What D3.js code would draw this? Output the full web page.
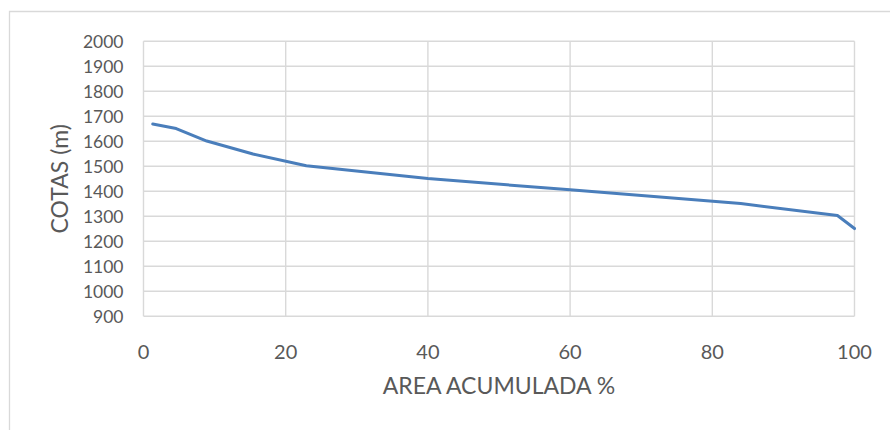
<!DOCTYPE html>
<html><head><meta charset="utf-8">
<script src="https://cdn.jsdelivr.net/npm/d3@7"></script>
<style>body{margin:0;background:#fff}svg{display:block}text{font-family:Lato,"Open Sans",sans-serif;fill:#595959}</style>
</head><body><svg id="c" width="890" height="430"></svg>
<script>
const areaAcumulada = [1.3, 4.6, 8.9, 15.4, 22.9, 40, 60, 84, 97.6, 100];
const cotas = [1669, 1651, 1601, 1549, 1502, 1451, 1406, 1351, 1303, 1251];
const xTicks = [0, 20, 40, 60, 80, 100];
const yTicks = [900,1000,1100,1200,1300,1400,1500,1600,1700,1800,1900,2000];
const xTitle = "AREA ACUMULADA %";
const yTitle = "COTAS (m)";

const svg = d3.select("#c");
const L = 143.5, R = 854.5, T = 41.3, B = 316.3;
const x = d3.scaleLinear().domain([0, 100]).range([L, R]);
const y = d3.scaleLinear().domain([900, 2000]).range([B, T]);

// outer chart border
svg.append("path").attr("d", "M9.5,430 V11.5 H890").attr("fill","none").attr("stroke","#d9d9d9").attr("stroke-width",1.3);

// gridlines
const g = svg.append("g");
g.selectAll(".hy").data(yTicks).join("line")
  .attr("x1", L).attr("x2", R).attr("y1", d => y(d)).attr("y2", d => y(d))
  .attr("stroke", "#d9d9d9").attr("stroke-width", 1.4);
g.selectAll(".vx").data(xTicks).join("line")
  .attr("y1", T).attr("y2", B).attr("x1", d => x(d)).attr("x2", d => x(d))
  .attr("stroke", "#d9d9d9").attr("stroke-width", 1.4);

// y tick labels
svg.append("g").selectAll("text").data(yTicks).join("text")
  .attr("x", 123.5).attr("y", d => y(d)).attr("dy", "0.36em")
  .attr("text-anchor", "end").attr("font-size", 17.5).text(d => d);
// x tick labels
svg.append("g").selectAll("text").data(xTicks).join("text")
  .attr("x", d => x(d)).attr("y", 352).attr("dy", "0.36em")
  .attr("text-anchor", "middle").attr("font-size", 20).text(d => d);

// titles
svg.append("text").attr("x", (L + R) / 2).attr("y", 386).attr("dy", "0.36em")
  .attr("text-anchor", "middle").attr("font-size", 23).text(xTitle);
svg.append("text").attr("transform", `translate(60,${(T + B) / 2}) rotate(-90)`).attr("dy", "0.36em")
  .attr("text-anchor", "middle").attr("font-size", 23).text(yTitle);

// line
const line = d3.line().x(d => x(d[0])).y(d => y(d[1]));
svg.append("path").datum(areaAcumulada.map((a, i) => [a, cotas[i]]))
  .attr("d", line).attr("fill", "none").attr("stroke", "#4a7ebb")
  .attr("stroke-width", 3).attr("stroke-linejoin", "round").attr("stroke-linecap", "round");
</script></body></html>
